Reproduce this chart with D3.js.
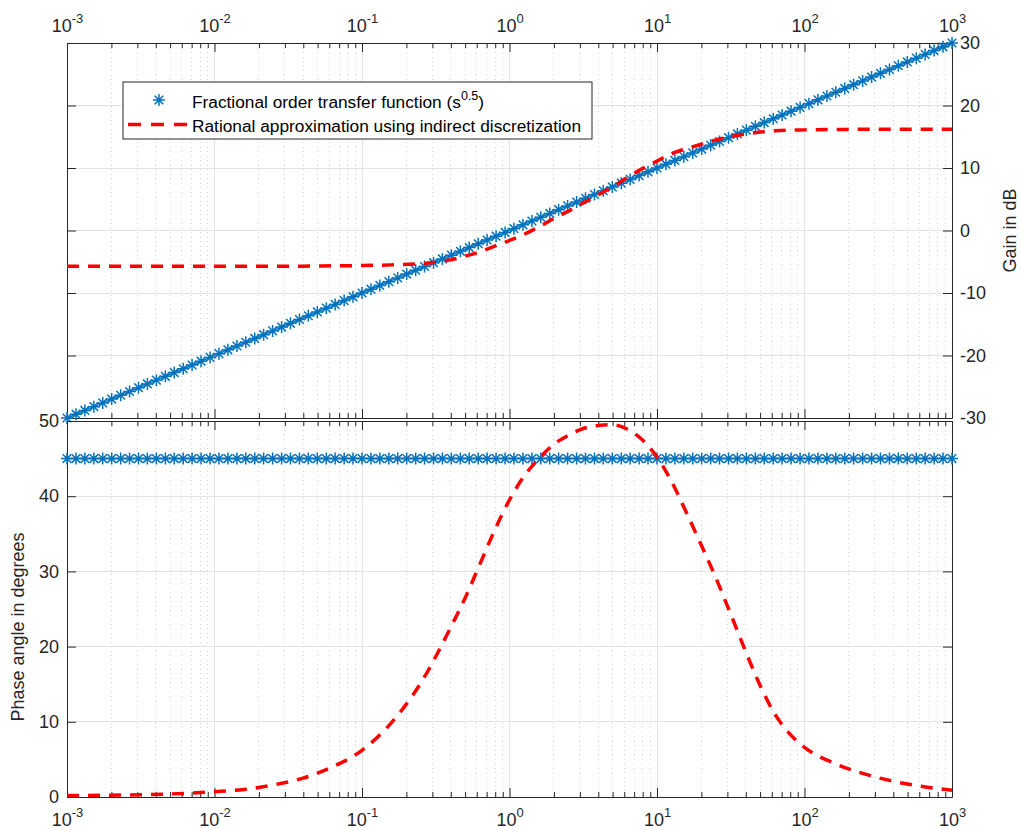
<!DOCTYPE html>
<html>
<head>
<meta charset="utf-8">
<script src="https://cdnjs.cloudflare.com/ajax/libs/d3/7.8.5/d3.min.js"></script>
<style>
body { margin: 0; background: #fff; }
svg { display: block; font-family: "Liberation Sans", Arial, Helvetica, sans-serif; }
</style>
</head>
<body>
<div id="chart"></div>
<script>
// frequency grid of the fractional order curve, as log10(w) in rad/s
var freqExp = [
    -3.000, -2.939, -2.879, -2.818, -2.758, -2.697, -2.636, -2.576, -2.515, -2.455,
    -2.394, -2.333, -2.273, -2.212, -2.152, -2.091, -2.030, -1.970, -1.909, -1.848,
    -1.788, -1.727, -1.667, -1.606, -1.545, -1.485, -1.424, -1.364, -1.303, -1.242,
    -1.182, -1.121, -1.061, -1.000, -0.939, -0.879, -0.818, -0.758, -0.697, -0.636,
    -0.576, -0.515, -0.455, -0.394, -0.333, -0.273, -0.212, -0.152, -0.091, -0.030,
    0.030, 0.091, 0.152, 0.212, 0.273, 0.333, 0.394, 0.455, 0.515, 0.576,
    0.636, 0.697, 0.758, 0.818, 0.879, 0.939, 1.000, 1.061, 1.121, 1.182,
    1.242, 1.303, 1.364, 1.424, 1.485, 1.545, 1.606, 1.667, 1.727, 1.788,
    1.848, 1.909, 1.970, 2.030, 2.091, 2.152, 2.212, 2.273, 2.333, 2.394,
    2.455, 2.515, 2.576, 2.636, 2.697, 2.758, 2.818, 2.879, 2.939, 3.000
];
var fracGain = [
    -30.00, -29.39, -28.79, -28.18, -27.58, -26.97, -26.36, -25.76, -25.15, -24.55,
    -23.94, -23.33, -22.73, -22.12, -21.52, -20.91, -20.30, -19.70, -19.09, -18.48,
    -17.88, -17.27, -16.67, -16.06, -15.45, -14.85, -14.24, -13.64, -13.03, -12.42,
    -11.82, -11.21, -10.61, -10.00, -9.39, -8.79, -8.18, -7.58, -6.97, -6.36,
    -5.76, -5.15, -4.55, -3.94, -3.33, -2.73, -2.12, -1.52, -0.91, -0.30,
    0.30, 0.91, 1.52, 2.12, 2.73, 3.33, 3.94, 4.55, 5.15, 5.76,
    6.36, 6.97, 7.58, 8.18, 8.79, 9.39, 10.00, 10.61, 11.21, 11.82,
    12.42, 13.03, 13.64, 14.24, 14.85, 15.45, 16.06, 16.67, 17.27, 17.88,
    18.48, 19.09, 19.70, 20.30, 20.91, 21.52, 22.12, 22.73, 23.33, 23.94,
    24.55, 25.15, 25.76, 26.36, 26.97, 27.58, 28.18, 28.79, 29.39, 30.00
];
var fracPhase = [
    45, 45, 45, 45, 45, 45, 45, 45, 45, 45, 45, 45, 45, 45, 45, 45, 45, 45, 45, 45,
    45, 45, 45, 45, 45, 45, 45, 45, 45, 45, 45, 45, 45, 45, 45, 45, 45, 45, 45, 45,
    45, 45, 45, 45, 45, 45, 45, 45, 45, 45, 45, 45, 45, 45, 45, 45, 45, 45, 45, 45,
    45, 45, 45, 45, 45, 45, 45, 45, 45, 45, 45, 45, 45, 45, 45, 45, 45, 45, 45, 45,
    45, 45, 45, 45, 45, 45, 45, 45, 45, 45, 45, 45, 45, 45, 45, 45, 45, 45, 45, 45
];

// rational approximation
var approxExp = [
    -3.0, -2.5, -2.0, -1.8, -1.6, -1.4, -1.2, -1.0, -0.8, -0.6,
    -0.4, -0.3, -0.2, -0.1, 0.0, 0.1, 0.2, 0.3, 0.4, 0.5,
    0.6, 0.7, 0.8, 0.9, 1.0, 1.1, 1.2, 1.3, 1.4, 1.5,
    1.6, 1.7, 1.8, 1.9, 2.0, 2.2, 2.4, 2.6, 2.8, 3.0
];
var approxGain = [
    -5.7, -5.7, -5.7, -5.7, -5.7, -5.7, -5.65, -5.6, -5.5, -5.3,
    -4.7, -4.1, -3.4, -2.5, -1.6, -0.6, 0.6, 1.9, 3.1, 4.4,
    5.7, 7.0, 8.5, 9.9, 11.1, 12.3, 13.1, 13.8, 14.5, 15.0,
    15.45, 15.75, 15.95, 16.05, 16.1, 16.15, 16.2, 16.2, 16.2, 16.2
];
var approxPhase = [
    0.2, 0.3, 0.7, 1.0, 1.6, 2.5, 4.0, 6.2, 9.9, 15.2,
    22.5, 26.5, 31.0, 35.5, 39.5, 42.7, 45.0, 46.9, 48.1, 49.0,
    49.4, 49.5, 48.9, 47.5, 45.2, 41.9, 37.8, 33.5, 29.1, 24.3,
    19.4, 14.8, 11.0, 8.4, 6.6, 4.5, 3.1, 2.1, 1.4, 0.9
];

var freqDomain = [1e-3, 1e3];
var gainTicks = [-30, -20, -10, 0, 10, 20, 30];
var phaseTicks = [0, 10, 20, 30, 40, 50];
var legendLabels = ["Fractional order transfer function (s", "Rational approximation using indirect discretization"];

var axisColor = "#262626";
var blue = "#0072BD";
var red = "#FF0000";
var starPath = "M-6,0H6M0,-6V6M-4.3,-4.3L4.3,4.3M-4.3,4.3L4.3,-4.3";

function isDecade(d) {
    var l = Math.log10(d);
    return Math.abs(l - Math.round(l)) < 1e-9;
}

BodePanel = function(_svg, _top, _bottom, _yTicks, _opts) {
    var vis = this;

    this.svg = _svg;
    this.top = _top;
    this.bottom = _bottom;
    this.left = 67;
    this.right = 952;
    this.yTicks = _yTicks;
    this.opts = _opts;

    vis.initScales();
    vis.drawGrid();
    vis.drawAxes();
};

BodePanel.prototype.initScales = function() {
    var vis = this;

    vis.x = d3.scaleLog().domain(freqDomain).range([vis.left, vis.right]);
    vis.y = d3.scaleLinear().domain(d3.extent(vis.yTicks)).range([vis.bottom, vis.top]);

    vis.majorFreq = vis.x.ticks().filter(isDecade);
    vis.minorFreq = vis.x.ticks().filter(function(d) { return !isDecade(d); });
};

BodePanel.prototype.drawGrid = function() {
    var vis = this;
    var g = vis.svg.append("g").attr("shape-rendering", "crispEdges");

    g.selectAll(".minor").data(vis.minorFreq).enter().append("line")
        .attr("x1", function(d) { return vis.x(d); })
        .attr("x2", function(d) { return vis.x(d); })
        .attr("y1", vis.top)
        .attr("y2", vis.bottom)
        .attr("stroke", "#d2d2d2")
        .attr("stroke-dasharray", "1,3.5");

    g.selectAll(".majorx").data(vis.majorFreq.slice(1, -1)).enter().append("line")
        .attr("x1", function(d) { return vis.x(d); })
        .attr("x2", function(d) { return vis.x(d); })
        .attr("y1", vis.top)
        .attr("y2", vis.bottom)
        .attr("stroke", "#e3e3e3");

    g.selectAll(".majory").data(vis.yTicks.slice(1, -1)).enter().append("line")
        .attr("x1", vis.left)
        .attr("x2", vis.right)
        .attr("y1", function(d) { return vis.y(d); })
        .attr("y2", function(d) { return vis.y(d); })
        .attr("stroke", "#e3e3e3");
};

BodePanel.prototype.drawAxes = function() {
    var vis = this;

    vis.addXAxis(d3.axisTop, vis.top, vis.opts.xLabels === "top");
    vis.addXAxis(d3.axisBottom, vis.bottom, vis.opts.xLabels === "bottom");
    vis.addYAxis(d3.axisLeft, vis.left, vis.opts.yLabels === "left");
    vis.addYAxis(d3.axisRight, vis.right, vis.opts.yLabels === "right");
};

BodePanel.prototype.addXAxis = function(axisFn, ypos, labelled) {
    var vis = this;

    var minor = vis.svg.append("g")
        .attr("transform", "translate(0," + ypos + ")")
        .style("color", axisColor)
        .call(axisFn(vis.x).tickValues(vis.minorFreq).tickSize(-5).tickSizeOuter(0).tickFormat(""));
    minor.select(".domain").remove();

    var major = vis.svg.append("g")
        .attr("transform", "translate(0," + ypos + ")")
        .style("color", axisColor)
        .call(axisFn(vis.x).tickValues(vis.majorFreq).tickSize(-9).tickSizeOuter(0)
            .tickFormat(function() { return labelled ? "10" : ""; }));
    major.attr("font-family", null).attr("font-size", null);

    if (labelled) {
        major.selectAll(".tick text")
            .attr("font-size", "18px")
            .attr("y", axisFn === d3.axisTop ? -11 : 29)
            .attr("dy", 0)
            .append("tspan")
            .attr("dy", -9)
            .attr("font-size", "13px")
            .text(function(d) { return String(Math.round(Math.log10(d))); });
    }
};

BodePanel.prototype.addYAxis = function(axisFn, xpos, labelled) {
    var vis = this;

    var g = vis.svg.append("g")
        .attr("transform", "translate(" + xpos + ",0)")
        .style("color", axisColor)
        .call(axisFn(vis.y).tickValues(vis.yTicks).tickSize(-9).tickSizeOuter(0).tickPadding(8)
            .tickFormat(function(d) { return labelled ? String(d) : ""; }));
    g.attr("font-family", null).attr("font-size", null);
    g.selectAll(".tick text").attr("font-size", "18px");
};

BodePanel.prototype.addTitle = function(text, xpos) {
    var vis = this;

    vis.svg.append("text")
        .attr("transform", "translate(" + xpos + "," + ((vis.top + vis.bottom) / 2 + vis.opts.titleShift) + ") rotate(-90)")
        .attr("text-anchor", "middle")
        .attr("font-size", "18px")
        .attr("fill", axisColor)
        .text(text);
};

BodePanel.prototype.drawStars = function(exps, vals) {
    var vis = this;
    var pts = exps.map(function(e, i) { return [vis.x(Math.pow(10, e)), vis.y(vals[i])]; });

    vis.svg.append("path")
        .attr("d", d3.line()(pts))
        .attr("fill", "none")
        .attr("stroke", blue)
        .attr("stroke-width", 1.5);

    vis.svg.append("g").selectAll("path").data(pts).enter().append("path")
        .attr("transform", function(d) { return "translate(" + d[0] + "," + d[1] + ")"; })
        .attr("d", starPath)
        .attr("fill", "none")
        .attr("stroke", blue)
        .attr("stroke-width", 1.5);
};

BodePanel.prototype.drawDashed = function(exps, vals) {
    var vis = this;
    var line = d3.line()
        .x(function(e) { return vis.x(Math.pow(10, e)); })
        .y(function(e, i) { return vis.y(vals[i]); })
        .curve(d3.curveMonotoneX);

    vis.svg.append("path")
        .attr("d", line(exps))
        .attr("fill", "none")
        .attr("stroke", red)
        .attr("stroke-width", 3.5)
        .attr("stroke-dasharray", "12,9");
};

var svg = d3.select("#chart").append("svg")
    .attr("width", 1021)
    .attr("height", 830);

svg.append("rect").attr("width", 1021).attr("height", 830).attr("fill", "#fff");

// gain panel
var gainPanel = new BodePanel(svg, 43, 418, gainTicks, { xLabels: "top", yLabels: "right", titleShift: 0 });
gainPanel.addTitle("Gain in dB", 1016);
gainPanel.drawStars(freqExp, fracGain);
gainPanel.drawDashed(approxExp, approxGain);

// phase panel
var phasePanel = new BodePanel(svg, 421, 797, phaseTicks, { xLabels: "bottom", yLabels: "left", titleShift: 18 });
phasePanel.addTitle("Phase angle in degrees", 24);
phasePanel.drawStars(freqExp, fracPhase);
phasePanel.drawDashed(approxExp, approxPhase);

// legend
var legend = svg.append("g");
legend.append("rect")
    .attr("x", 123).attr("y", 82)
    .attr("width", 469).attr("height", 57)
    .attr("fill", "#fff")
    .attr("stroke", axisColor)
    .attr("stroke-width", 1);
legend.append("path")
    .attr("transform", "translate(159,100)")
    .attr("d", starPath)
    .attr("fill", "none")
    .attr("stroke", blue)
    .attr("stroke-width", 1.5);
legend.append("line")
    .attr("x1", 128).attr("x2", 188)
    .attr("y1", 124.5).attr("y2", 124.5)
    .attr("stroke", red)
    .attr("stroke-width", 3.5)
    .attr("stroke-dasharray", "13,10");

var l1 = legend.append("text")
    .attr("x", 192).attr("y", 108)
    .attr("font-size", "17.3px")
    .attr("fill", "#000")
    .text(legendLabels[0]);
l1.append("tspan").attr("dy", -8).attr("font-size", "12.5px").text("0.5");
l1.append("tspan").attr("dy", 8).text(")");

legend.append("text")
    .attr("x", 192).attr("y", 132)
    .attr("font-size", "17.3px")
    .attr("fill", "#000")
    .text(legendLabels[1]);
</script>
</body>
</html>
